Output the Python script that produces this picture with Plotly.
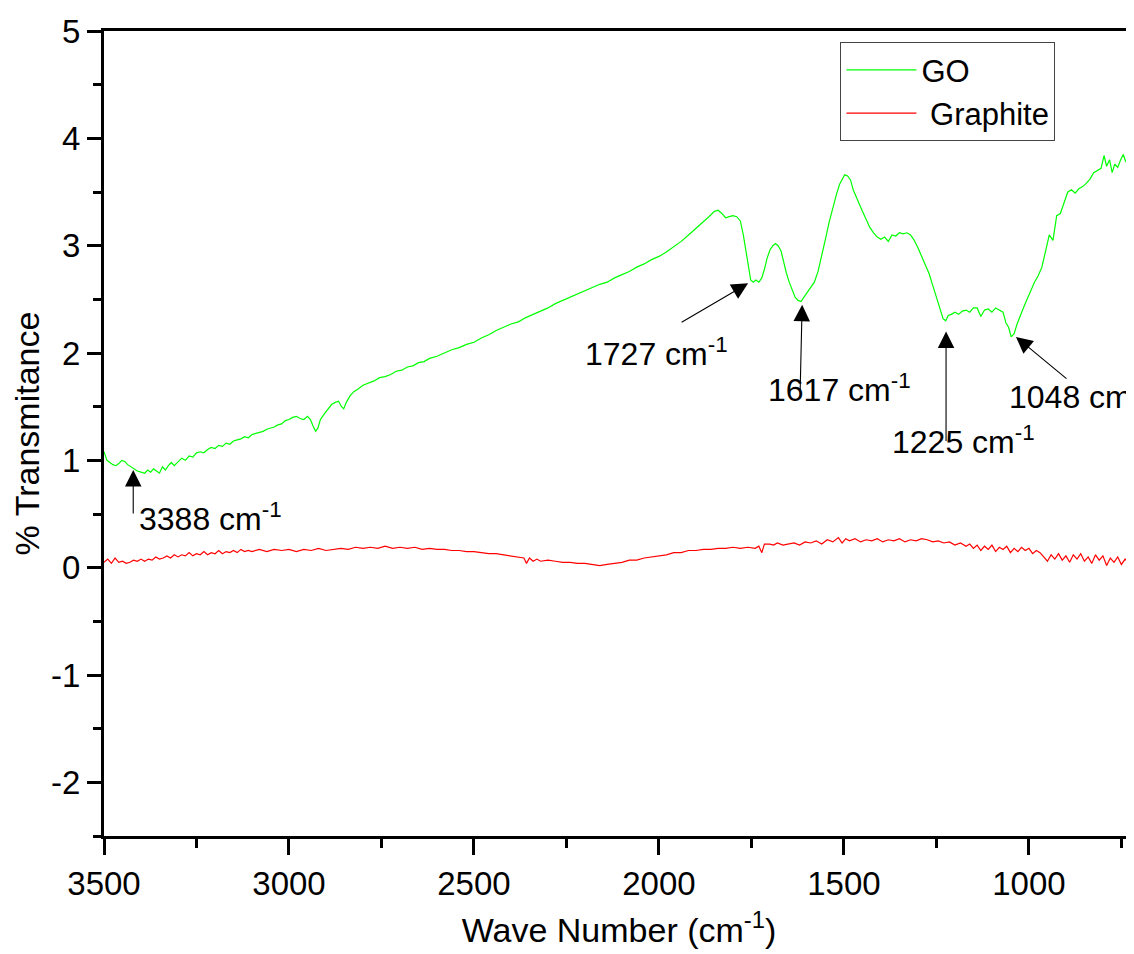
import plotly.graph_objects as go

go_wn = [3500,3492,3484,3476,3468,3460,3452,3444,3436,3428,3420,3410,3400,3390,3382,3374,3366,3358,3350,3342,3334,3326,3318,3310,3300,3290,3280,3270,3260,3250,3240,3230,3220,3210,3200,3190,3180,3170,3160,3150,3140,3130,3120,3110,3100,3090,3080,3070,3060,3050,3040,3030,3020,3010,3000,2990,2980,2970,2960,2950,2942,2935,2928,2922,2915,2905,2895,2885,2875,2866,2858,2852,2845,2835,2825,2815,2800,2785,2770,2755,2740,2725,2710,2695,2680,2665,2650,2635,2620,2600,2580,2560,2540,2520,2500,2480,2460,2440,2420,2400,2380,2360,2340,2320,2300,2280,2260,2240,2220,2200,2180,2160,2140,2120,2100,2080,2060,2040,2020,2000,1980,1960,1940,1920,1900,1880,1865,1850,1840,1830,1820,1810,1800,1790,1780,1772,1765,1758,1752,1745,1738,1730,1722,1715,1708,1700,1692,1685,1678,1670,1664,1656,1648,1640,1632,1624,1616,1608,1600,1590,1580,1570,1560,1550,1540,1530,1520,1512,1505,1498,1490,1482,1475,1468,1460,1450,1440,1430,1420,1410,1400,1390,1380,1370,1360,1350,1340,1330,1320,1310,1300,1290,1280,1270,1260,1250,1240,1232,1225,1218,1210,1200,1190,1180,1170,1160,1150,1140,1130,1120,1110,1100,1090,1080,1070,1062,1055,1048,1040,1032,1024,1015,1005,995,985,975,965,955,945,935,925,915,905,895,885,875,865,855,845,835,825,815,805,797,790,782,775,768,760,752,745,738,730,722,716]
go_t = [1.08,1.00,0.98,0.96,0.95,0.97,1.00,0.99,0.96,0.94,0.92,0.90,0.89,0.88,0.91,0.89,0.92,0.90,0.88,0.94,0.91,0.95,0.98,0.95,0.99,1.02,1.00,1.04,1.03,1.07,1.08,1.07,1.10,1.12,1.11,1.14,1.13,1.16,1.15,1.18,1.19,1.20,1.22,1.21,1.24,1.25,1.26,1.27,1.29,1.30,1.31,1.33,1.34,1.37,1.38,1.40,1.41,1.39,1.38,1.41,1.38,1.32,1.27,1.30,1.38,1.43,1.47,1.52,1.54,1.55,1.50,1.48,1.54,1.60,1.64,1.66,1.70,1.72,1.74,1.77,1.78,1.80,1.83,1.84,1.87,1.88,1.91,1.92,1.95,1.97,2.00,2.03,2.05,2.08,2.10,2.14,2.17,2.21,2.24,2.27,2.29,2.33,2.36,2.39,2.42,2.46,2.49,2.52,2.55,2.58,2.61,2.64,2.66,2.70,2.73,2.76,2.80,2.83,2.87,2.90,2.94,2.99,3.04,3.10,3.16,3.22,3.27,3.32,3.33,3.30,3.26,3.27,3.28,3.27,3.23,3.10,2.95,2.78,2.68,2.66,2.68,2.66,2.70,2.78,2.88,2.96,3.00,3.02,3.00,2.95,2.86,2.75,2.66,2.58,2.52,2.49,2.48,2.52,2.56,2.60,2.66,2.76,2.90,3.06,3.22,3.36,3.48,3.57,3.62,3.66,3.65,3.61,3.52,3.47,3.40,3.32,3.24,3.17,3.12,3.08,3.06,3.08,3.04,3.10,3.09,3.12,3.11,3.12,3.10,3.05,2.98,2.90,2.82,2.74,2.63,2.52,2.40,2.32,2.30,2.35,2.36,2.38,2.36,2.39,2.40,2.38,2.42,2.42,2.34,2.40,2.41,2.38,2.42,2.40,2.38,2.28,2.24,2.15,2.18,2.27,2.35,2.42,2.50,2.58,2.66,2.72,2.80,2.95,3.10,3.05,3.28,3.30,3.40,3.50,3.52,3.49,3.53,3.55,3.58,3.62,3.68,3.70,3.72,3.84,3.74,3.80,3.68,3.76,3.73,3.80,3.85,3.78,3.82,3.76,3.78]

gr_wn = [3500,3490,3480,3470,3460,3450,3440,3430,3420,3410,3400,3390,3380,3370,3360,3350,3340,3330,3320,3310,3300,3290,3280,3270,3260,3250,3240,3230,3220,3210,3200,3190,3180,3170,3160,3150,3140,3130,3120,3110,3100,3080,3060,3040,3020,3000,2980,2960,2940,2920,2900,2880,2860,2840,2820,2800,2780,2760,2740,2720,2700,2680,2660,2640,2620,2600,2580,2560,2540,2520,2500,2480,2460,2440,2420,2400,2380,2365,2358,2350,2340,2330,2320,2300,2280,2260,2240,2220,2200,2180,2160,2140,2120,2100,2080,2060,2040,2020,2000,1980,1960,1940,1920,1900,1880,1860,1840,1820,1800,1780,1760,1740,1730,1722,1715,1700,1690,1680,1665,1650,1635,1620,1605,1590,1575,1560,1545,1530,1515,1505,1495,1485,1470,1455,1440,1425,1410,1395,1380,1365,1350,1335,1320,1305,1290,1275,1260,1245,1230,1215,1200,1185,1170,1160,1150,1140,1130,1120,1110,1100,1090,1080,1070,1060,1050,1040,1030,1020,1010,1000,990,980,970,960,950,940,930,920,910,900,890,880,870,860,850,840,830,820,810,800,790,780,770,760,750,740,730,722,718,716]
gr_t = [0.05,0.08,0.04,0.09,0.05,0.06,0.04,0.05,0.07,0.06,0.08,0.06,0.08,0.07,0.10,0.08,0.09,0.11,0.09,0.12,0.10,0.12,0.11,0.14,0.11,0.13,0.12,0.15,0.12,0.14,0.13,0.16,0.13,0.15,0.14,0.16,0.14,0.17,0.15,0.16,0.15,0.17,0.15,0.17,0.16,0.17,0.15,0.17,0.16,0.18,0.16,0.17,0.18,0.17,0.19,0.18,0.19,0.18,0.20,0.18,0.19,0.18,0.19,0.17,0.18,0.17,0.17,0.16,0.16,0.15,0.15,0.14,0.13,0.13,0.12,0.11,0.10,0.09,0.04,0.09,0.06,0.08,0.06,0.07,0.06,0.05,0.05,0.04,0.04,0.03,0.02,0.03,0.04,0.05,0.07,0.07,0.09,0.10,0.11,0.12,0.14,0.14,0.16,0.16,0.17,0.17,0.18,0.18,0.19,0.18,0.19,0.18,0.20,0.14,0.22,0.22,0.21,0.23,0.21,0.22,0.23,0.21,0.24,0.23,0.25,0.22,0.26,0.24,0.28,0.23,0.27,0.25,0.27,0.24,0.26,0.25,0.27,0.24,0.26,0.25,0.27,0.24,0.26,0.25,0.27,0.26,0.24,0.25,0.23,0.24,0.21,0.23,0.20,0.22,0.18,0.21,0.16,0.20,0.17,0.21,0.15,0.19,0.17,0.20,0.14,0.18,0.15,0.19,0.16,0.18,0.13,0.16,0.14,0.10,0.06,0.12,0.08,0.13,0.07,0.11,0.05,0.12,0.08,0.13,0.06,0.10,0.04,0.12,0.07,0.11,0.02,0.09,0.05,0.10,0.03,0.08,0.04,0.07,-0.04,0.00]

# axis tick labels
x_tickvals = [3500, 3000, 2500, 2000, 1500, 1000]
x_ticktext = ["3500", "3000", "2500", "2000", "1500", "1000"]
y_tickvals = [5, 4, 3, 2, 1, 0, -1, -2]
y_ticktext = ["5", "4", "3", "2", "1", "0", "-1", "-2"]

# peak annotations
peak_labels = ["3388", "1727", "1617", "1225", "1048"]
head_wn = [3421, 1759, 1613, 1224, 1035]
head_t = [0.91, 2.65, 2.45, 2.20, 2.15]
text_wn = [3411, 2205, 1711, 1376, 1060]
text_t = [0.47, 2.01, 1.67, 1.19, 1.61]
# arrow tail offsets (pixels from arrow head)
tail_dx = [0, -68, -2, 0, 52]
tail_dy = [45, 40, 87, 111, 43]

FONT = "Liberation Sans Narrow, Arial Narrow, Liberation Sans, Arial, sans-serif"

fig = go.Figure()
fig.add_trace(go.Scatter(x=go_wn, y=go_t, mode="lines", name="GO",
                         line=dict(color="#00ff00", width=1.2)))
fig.add_trace(go.Scatter(x=gr_wn, y=gr_t, mode="lines", name=" Graphite",
                         line=dict(color="#ff0000", width=1.2)))

anns = []
for lab, hx, hy, dx, dy, tx, ty in zip(peak_labels, head_wn, head_t, tail_dx, tail_dy, text_wn, text_t):
    anns.append(dict(x=hx, y=hy, xref="x", yref="y", ax=dx, ay=dy, text="",
                     showarrow=True, arrowhead=2, arrowsize=3, arrowwidth=1.1,
                     arrowcolor="black", standoff=0, startstandoff=0))
    anns.append(dict(x=tx, y=ty, xref="x", yref="y", text=lab + " cm<sup>-1</sup>",
                     showarrow=False, xanchor="left", yanchor="middle",
                     font=dict(family=FONT, size=32, color="black")))

# the page body has an 8px margin, so the figure is sized to fill the rest of the window
fig.update_layout(
    width=1126, height=946,
    margin=dict(l=96, r=0, t=23, b=118),
    plot_bgcolor="white", paper_bgcolor="white",
    font=dict(family=FONT, size=32, color="black"),
    showlegend=True,
    legend=dict(x=0.715, y=0.986, xanchor="left", yanchor="top",
                bordercolor="#444", borderwidth=1, bgcolor="white",
                font=dict(family=FONT, size=31, color="black"),
                itemwidth=70, tracegroupgap=0),
    annotations=anns,
    xaxis=dict(range=[3500, 716], tickvals=x_tickvals, ticktext=x_ticktext,
               automargin=False,
               showline=True, linecolor="black", linewidth=3, mirror=True,
               ticks="outside", ticklen=16, tickwidth=3, tickcolor="black",
               minor=dict(dtick=250, ticks="outside", ticklen=9, tickwidth=3, tickcolor="black"),
               showgrid=False, zeroline=False,
               tickfont=dict(family=FONT, size=33),
               title=dict(text="Wave Number (cm<sup>-1</sup>)", standoff=18,
                          font=dict(family=FONT, size=34))),
    yaxis=dict(range=[-2.5, 5], tickvals=y_tickvals, ticktext=y_ticktext,
               automargin=False,
               showline=True, linecolor="black", linewidth=3,
               ticks="outside", ticklen=14, tickwidth=3, tickcolor="black",
               minor=dict(dtick=0.5, ticks="outside", ticklen=8, tickwidth=3, tickcolor="black"),
               showgrid=False, zeroline=False,
               tickfont=dict(family=FONT, size=33),
               title=dict(text="% Transmitance", standoff=14,
                          font=dict(family=FONT, size=34))),
)

fig.write_html("out.html")
